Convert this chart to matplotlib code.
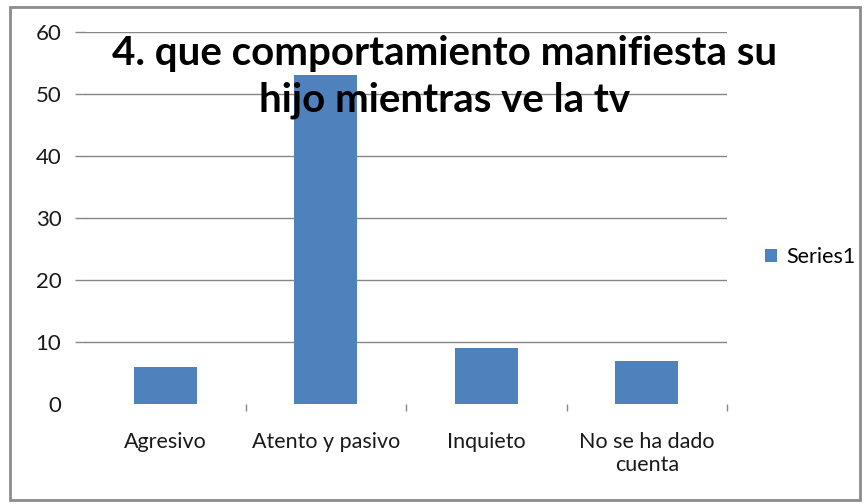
import matplotlib.pyplot as plt
from matplotlib.patches import Rectangle
import numpy as np

categorias = ["Agresivo", "Atento y pasivo", "Inquieto", "No se ha dado\ncuenta"]
valores = [6, 53, 9, 7]
serie = "Series1"
titulo = "4. que comportamiento manifiesta su\nhijo mientras ve la tv"
yticks = [0, 10, 20, 30, 40, 50, 60]

azul = "#4F81BD"
gris = "#868686"

plt.rcParams['font.family'] = ['Lato', 'DejaVu Sans']

fig = plt.figure(figsize=(8.64, 5.04), dpi=100)
ax = fig.add_axes([85 / 864, 1 - 404 / 504, 642 / 864, 372 / 504])

x = np.arange(len(categorias))
ax.bar(x, valores, width=0.39, color=azul, zorder=3, label=serie)

ax.set_xlim(-0.5, len(categorias) - 0.5)
ax.set_ylim(0, 60)
ax.set_yticks(yticks)
ax.yaxis.grid(True, color=gris, linewidth=1, zorder=0)
ax.set_axisbelow(True)

for s in ax.spines.values():
    s.set_visible(False)

ax.set_xticks(x)
ax.set_xticklabels(categorias, fontsize=15.5, color="#1a1a1a", linespacing=1.2)
ax.tick_params(axis='x', which='major', length=0, pad=20)
ax.set_xticks(np.arange(1, len(categorias) + 1) - 0.5, minor=True)
ax.tick_params(axis='x', which='minor', length=5, width=1, color=gris)
ax.tick_params(axis='y', length=7, width=1, color=gris, labelsize=16,
               labelcolor="#1a1a1a", pad=10)

# sin linea en el cero
t0 = ax.yaxis.get_major_ticks()[0]
t0.tick1line.set_visible(False)
t0.gridline.set_visible(False)

fig.text(445 / 864, 1 - 77 / 504, titulo, ha='center', va='center',
         fontsize=29, fontweight='bold', linespacing=1.32, zorder=5)

leg = ax.legend(loc='center left', bbox_to_anchor=((765 - 85) / 642, 0.395),
                frameon=False, fontsize=15.5, handlelength=0.55,
                handleheight=0.55, handletextpad=0.45, borderpad=0,
                borderaxespad=0)

fig.patches.append(Rectangle((10 / 864, 4 / 504), 850 / 864, 493 / 504,
                             transform=fig.transFigure, fill=False,
                             edgecolor="#8c8c8c", linewidth=2))

fig.savefig("out.png", dpi=100)
